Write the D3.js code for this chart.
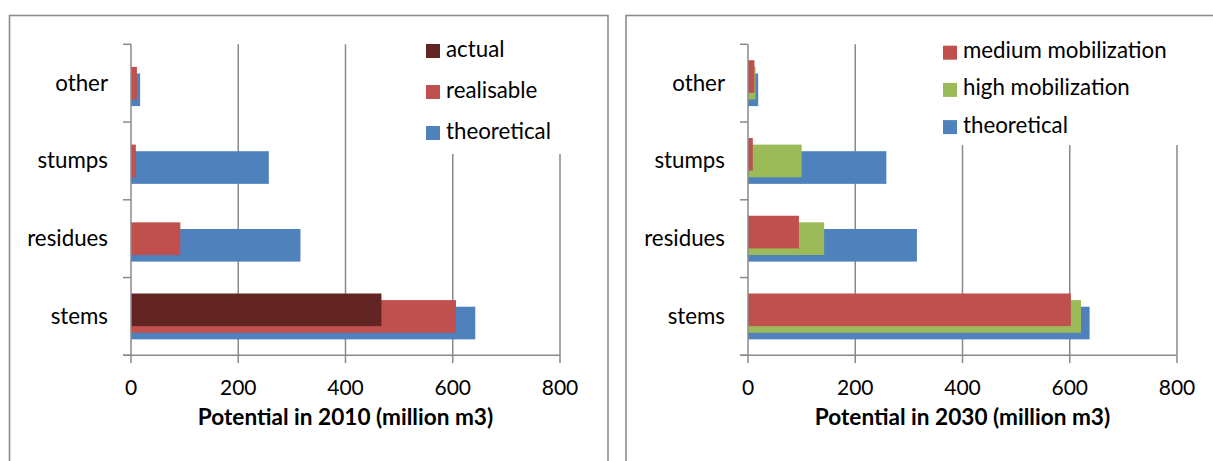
<!DOCTYPE html>
<html><head><meta charset="utf-8">
<script src="https://cdn.jsdelivr.net/npm/d3@7/dist/d3.min.js"></script>
<style>html,body{margin:0;padding:0;background:#fff;}svg{display:block;}</style>
</head><body>
<svg id="chart" width="1213" height="461"></svg>
<script>
const categories = ["stems", "residues", "stumps", "other"];
const xTicks = [0, 200, 400, 600, 800];

const theoretical2010 = [642, 316, 257, 17];
const realisable2010 = [606, 92, 9, 11];
const actual2010 = [467, 0, 0, 0];

const theoretical2030 = [637, 315, 258, 19];
const high2030 = [621, 142, 100, 14];
const medium2030 = [602, 95, 9, 12];

const title2010 = "Potential in 2010 (million m3)";
const title2030 = "Potential in 2030 (million m3)";

const FONT = "Lato, 'Open Sans', sans-serif";
const GRID = "#8a8a8a";

const svg = d3.select("#chart");

function panel(opt) {
  const g = svg.append("g");
  // frame
  g.append("rect").attr("x", opt.frame[0]).attr("y", 15.5)
    .attr("width", opt.frame[1] - opt.frame[0]).attr("height", 520)
    .attr("fill", "#fff").attr("stroke", "#8c8c8c").attr("stroke-width", 1.6);

  const x = d3.scaleLinear().domain([0, 800]).range([opt.x0, opt.x1]);
  const y = d3.scaleBand().domain(categories.slice().reverse()).range([44.3, 355.3]).padding(0);
  const bw = y.bandwidth();
  const bh = bw * 0.42;
  const step = bw * 0.085;

  // gridlines
  g.append("g").selectAll("line").data(xTicks.slice(1)).join("line")
    .attr("x1", d => x(d)).attr("x2", d => x(d))
    .attr("y1", 44.3).attr("y2", 355.3)
    .attr("stroke", GRID).attr("stroke-width", 1.5);

  // bars
  opt.series.forEach((s, i) => {
    const off = (1 - i) * step;
    g.append("g").selectAll("rect").data(categories.map((c, k) => ({c, v: s.values[k]})).filter(d => d.v > 0))
      .join("rect")
      .attr("x", x(0))
      .attr("y", d => y(d.c) + bw / 2 + off - bh / 2)
      .attr("width", d => x(d.v) - x(0))
      .attr("height", bh)
      .attr("fill", s.color);
  });

  // y axis
  g.append("line").attr("x1", x(0)).attr("x2", x(0)).attr("y1", 44.3).attr("y2", 355.3)
    .attr("stroke", GRID).attr("stroke-width", 1.5);
  const bounds = categories.map(c => y(c)).concat([355.3]);
  g.append("g").selectAll("line").data(bounds).join("line")
    .attr("x1", x(0) - 8).attr("x2", x(0)).attr("y1", d => d).attr("y2", d => d)
    .attr("stroke", GRID).attr("stroke-width", 1.5);
  // x axis
  g.append("line").attr("x1", x(0) - 8).attr("x2", x(800)).attr("y1", 355.3).attr("y2", 355.3)
    .attr("stroke", GRID).attr("stroke-width", 1.5);
  g.append("g").selectAll("line").data(xTicks).join("line")
    .attr("x1", d => x(d)).attr("x2", d => x(d)).attr("y1", 355.3).attr("y2", 363)
    .attr("stroke", GRID).attr("stroke-width", 1.5);
  g.append("g").selectAll("text").data(xTicks).join("text")
    .attr("x", d => x(d)).attr("y", 395).attr("text-anchor", "middle")
    .attr("font-family", FONT).attr("font-size", 21).attr("fill", "#000")
    .text(d => d);

  // category labels
  g.append("g").selectAll("text").data(categories).join("text")
    .attr("x", x(0) - 23).attr("y", d => y(d) + bw / 2 + 7.5).attr("text-anchor", "end")
    .attr("font-family", FONT).attr("font-size", 22.3).attr("fill", "#000")
    .text(d => d);

  // axis title
  g.append("text").attr("x", (x(0) + x(800)) / 2).attr("y", 425).attr("text-anchor", "middle")
    .attr("font-family", FONT).attr("font-size", 22.6).attr("font-weight", "bold").attr("fill", "#000")
    .text(opt.title);

  // legend
  g.append("rect").attr("x", opt.legend.x - 6).attr("y", 40)
    .attr("width", x(800) + 6 - (opt.legend.x - 6)).attr("height", opt.legend.bottom - 40)
    .attr("fill", "#fff");
  const items = opt.series.slice().reverse();
  items.forEach((s, i) => {
    const top = opt.legend.top + i * opt.legend.gap;
    g.append("rect").attr("x", opt.legend.x).attr("y", top).attr("width", 14).attr("height", 14).attr("fill", s.color);
    g.append("text").attr("x", opt.legend.x + 20).attr("y", top + 12.5)
      .attr("font-family", FONT).attr("font-size", 22.3).attr("fill", "#000").text(s.name);
  });
}

panel({
  frame: [9.5, 608],
  x0: 131, x1: 560,
  title: title2010,
  series: [
    {name: "theoretical", values: theoretical2010, color: "#4F81BD"},
    {name: "realisable", values: realisable2010, color: "#C0504D"},
    {name: "actual", values: actual2010, color: "#632523"}
  ],
  legend: {x: 426, top: 44, gap: 41, bottom: 154}
});

panel({
  frame: [626, 1240],
  x0: 748, x1: 1177,
  title: title2030,
  series: [
    {name: "theoretical", values: theoretical2030, color: "#4F81BD"},
    {name: "high mobilization", values: high2030, color: "#9BBB59"},
    {name: "medium mobilization", values: medium2030, color: "#C0504D"}
  ],
  legend: {x: 943, top: 45.7, gap: 37.2, bottom: 145}
});
</script>
</body></html>
